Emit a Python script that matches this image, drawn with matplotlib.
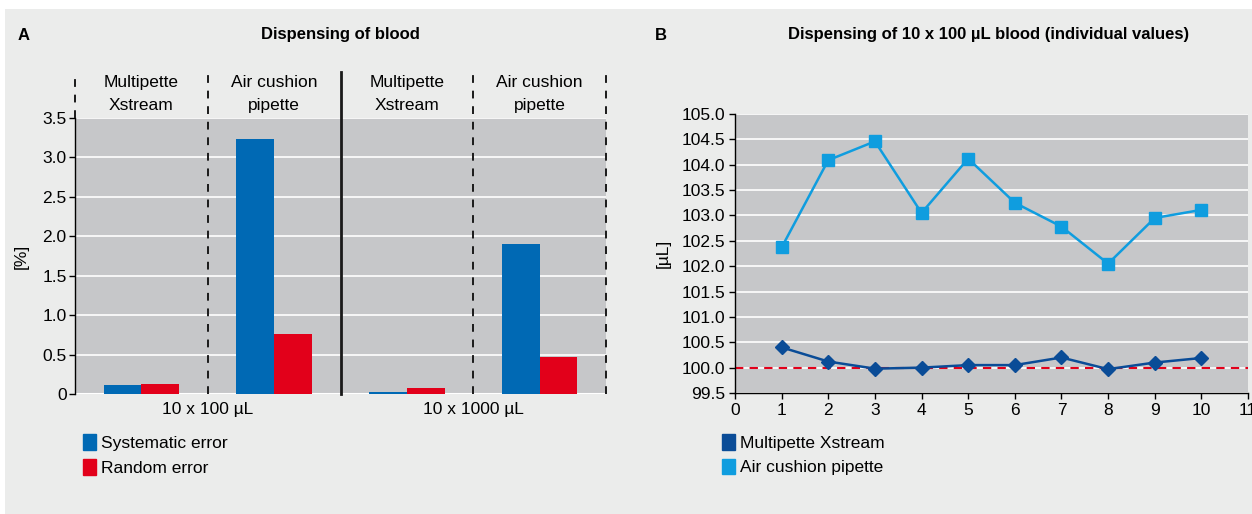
import numpy as np
import matplotlib
matplotlib.use("Agg")
import matplotlib.pyplot as plt
import matplotlib.patches as mpatches
import matplotlib.transforms as mtransforms

plt.rcParams.update({
    "font.family": ["Liberation Sans", "DejaVu Sans"],
    "font.size": 12.5,
    "axes.linewidth": 1.0,
})

# ── Data ────────────────────────────────────────────────────────────────────
# panel A: bar groups (left to right)
groups = ["Multipette\nXstream", "Air cushion\npipette",
          "Multipette\nXstream", "Air cushion\npipette"]
volumes = ["10 x 100 µL", "10 x 1000 µL"]
systematic_err = [0.11, 3.23, 0.03, 1.90]
random_err = [0.13, 0.76, 0.07, 0.47]
a_ticks = [0, 0.5, 1.0, 1.5, 2.0, 2.5, 3.0, 3.5]
a_ticklabels = ["0", "0.5", "1.0", "1.5", "2.0", "2.5", "3.0", "3.5"]

# panel B: individual values
dispense_no = [1, 2, 3, 4, 5, 6, 7, 8, 9, 10]
multipette_ul = [100.40, 100.12, 99.98, 100.00, 100.05, 100.05, 100.20, 99.97, 100.10, 100.19]
aircushion_ul = [102.37, 104.09, 104.46, 103.05, 104.12, 103.25, 102.78, 102.05, 102.95, 103.11]
nominal_ul = 100.0

# ── Colours ─────────────────────────────────────────────────────────────────
FIG_BG = "#ebeceb"
AX_BG = "#c6c7c9"
C_SYS = "#0069b4"
C_RAND = "#e2001a"
C_MULTI = "#0a4c97"
C_AIR = "#0f9ddf"

W, H = 1252, 514
fig = plt.figure(figsize=(W / 100, H / 100), dpi=100, facecolor="white")
fig.patches.append(mpatches.Rectangle((5 / W, 0), 1 - 5 / W, 1 - 9 / H,
                                      transform=fig.transFigure,
                                      facecolor=FIG_BG, edgecolor="none", zorder=-10))


def px_axes(l, t, r, b):
    return fig.add_axes([l / W, 1 - b / H, (r - l) / W, (b - t) / H])


# ── Panel A ─────────────────────────────────────────────────────────────────
axA = px_axes(75, 118, 606, 394)
axA.set_facecolor(AX_BG)
x = np.arange(len(groups))
bw = 0.285
axA.bar(x - bw / 2, systematic_err, width=bw, color=C_SYS, zorder=3)
axA.bar(x + bw / 2, random_err, width=bw, color=C_RAND, zorder=3)
axA.set_xlim(-0.5, len(groups) - 0.5)
axA.set_ylim(0, 3.5)
axA.set_yticks(a_ticks)
axA.set_yticklabels(a_ticklabels)
axA.set_xticks([])
axA.grid(axis="y", color="white", linewidth=1.2, zorder=0)
axA.set_axisbelow(True)
for s in ["top", "right", "bottom"]:
    axA.spines[s].set_visible(False)
axA.tick_params(axis="y", length=4, width=1, pad=2)
axA.axhline(0, color="white", linewidth=1.5, zorder=2)

# group separators: dashed between instruments, solid between volumes
trA = mtransforms.blended_transform_factory(axA.transData, axA.transAxes)
for xv, y0 in [(-0.5, 1.0), (0.5, 0), (2.5, 0), (3.5, 0)]:
    axA.plot([xv, xv], [y0, 1.165], transform=trA, color="#1a1a1a", lw=1.4,
             ls=(0, (4, 4)), clip_on=False, zorder=5)
axA.plot([1.5, 1.5], [0, 1.165], transform=trA, color="#1a1a1a", lw=2,
         clip_on=False, zorder=5)
for xi, g in zip(x, groups):
    axA.text(xi, 1.088, g, transform=trA, ha="center", va="center",
             linespacing=1.65, fontsize=12.5)
for i, v in enumerate(volumes):
    axA.text(2 * i + 0.5, -0.055, v, transform=trA, ha="center", va="center")
axA.set_ylabel("[%]", labelpad=10)

fig.text(18 / W, 1 - 35 / H, "A", fontweight="bold", fontsize=12, va="center")
fig.text(340 / W, 1 - 35 / H, "Dispensing of blood", fontweight="bold",
         fontsize=12, ha="center", va="center")

axA.legend(handles=[mpatches.Patch(color=C_SYS, label="Systematic error"),
                    mpatches.Patch(color=C_RAND, label="Random error")],
           loc="upper left", bbox_to_anchor=(83 / W, 1 - 434 / H),
           bbox_transform=fig.transFigure, frameon=False, handlelength=0.75,
           handleheight=1.0, handletextpad=0.3, labelspacing=0.5,
           borderpad=0, borderaxespad=0)

# ── Panel B ─────────────────────────────────────────────────────────────────
axB = px_axes(735, 114, 1248, 393)
axB.set_facecolor(AX_BG)
axB.set_xlim(0, 11)
axB.set_ylim(99.5, 105.0)
axB.set_xticks(range(0, 12))
axB.set_yticks(np.arange(99.5, 105.01, 0.5))
axB.yaxis.set_major_formatter(matplotlib.ticker.FormatStrFormatter("%.1f"))
axB.grid(axis="y", color="white", linewidth=1.2, zorder=0)
axB.set_axisbelow(True)
for s in ["top", "right"]:
    axB.spines[s].set_visible(False)
axB.tick_params(axis="both", length=4, width=1, pad=3)
axB.axhline(nominal_ul, color=C_RAND, lw=1.5, ls=(0, (4, 3)), zorder=2)
axB.plot(dispense_no, aircushion_ul, color=C_AIR, lw=1.8, marker="s", ms=8,
         zorder=3, clip_on=False)
axB.plot(dispense_no, multipette_ul, color=C_MULTI, lw=1.8, marker="D", ms=7.5,
         zorder=4, clip_on=False)
axB.set_ylabel("[µL]", labelpad=8)

fig.text(655 / W, 1 - 35 / H, "B", fontweight="bold", fontsize=12, va="center")
fig.text(989 / W, 1 - 35 / H, "Dispensing of 10 x 100 µL blood (individual values)",
         fontweight="bold", fontsize=12, ha="center", va="center")

axB.legend(handles=[mpatches.Patch(color=C_MULTI, label="Multipette Xstream"),
                    mpatches.Patch(color=C_AIR, label="Air cushion pipette")],
           loc="upper left", bbox_to_anchor=(722 / W, 1 - 434 / H),
           bbox_transform=fig.transFigure, frameon=False, handlelength=0.75,
           handleheight=1.0, handletextpad=0.3, labelspacing=0.45,
           borderpad=0, borderaxespad=0)

fig.savefig("out.png", dpi=100, facecolor=fig.get_facecolor())
